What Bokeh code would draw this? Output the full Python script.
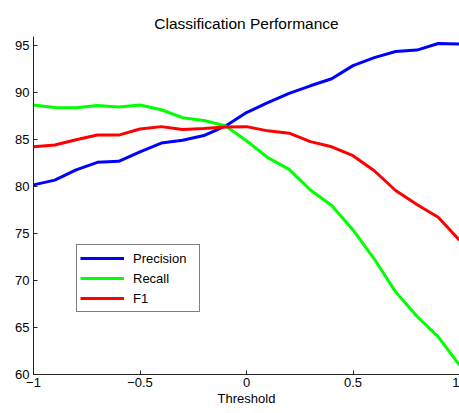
from bokeh.plotting import figure
from bokeh.models import Range1d, FixedTicker, Legend, LegendItem
from bokeh.embed import file_html
from bokeh.resources import INLINE

thresholds = [-1.0, -0.9, -0.8, -0.7, -0.6, -0.5, -0.4, -0.3, -0.2, -0.1, 0.0,
              0.1, 0.2, 0.3, 0.4, 0.5, 0.6, 0.7, 0.8, 0.9, 1.0]
precision = [80.2, 80.7, 81.8, 82.6, 82.7, 83.7, 84.65, 84.95, 85.45, 86.45, 87.9,
             88.95, 89.95, 90.75, 91.5, 92.9, 93.75, 94.4, 94.55, 95.25, 95.2]
recall = [88.7, 88.45, 88.4, 88.65, 88.5, 88.7, 88.2, 87.35, 87.05, 86.5, 84.9,
          83.1, 81.85, 79.65, 78.0, 75.4, 72.3, 68.8, 66.2, 64.0, 61.0]
f1 = [84.25, 84.45, 85.0, 85.5, 85.5, 86.15, 86.4, 86.1, 86.2, 86.35, 86.4,
      85.95, 85.7, 84.8, 84.25, 83.3, 81.7, 79.6, 78.1, 76.75, 74.3]

x_ticks = [-1, -0.5, 0, 0.5, 1]
x_tick_labels = {-1: "\u22121", -0.5: "\u22120.5", 0: "0", 0.5: "0.5", 1: "1"}
y_ticks = [60, 65, 70, 75, 80, 85, 90, 95]

FONT = "Liberation Sans"

p = figure(width=459, height=413, output_backend="svg", toolbar_location=None,
           title="Classification Performance",
           x_range=Range1d(-1, 1), y_range=Range1d(60, 96),
           min_border_left=33, min_border_right=0, min_border_top=36,
           min_border_bottom=39)
p.title.align = "center"
p.title.text_font = FONT
p.title.text_font_size = "15.5px"
p.title.text_font_style = "normal"
p.title.text_color = "black"

p.outline_line_color = None
p.xgrid.visible = False
p.ygrid.visible = False

for ax in (p.xaxis[0], p.yaxis[0]):
    ax.major_tick_in = 4
    ax.major_tick_out = 0
    ax.minor_tick_line_color = None
    ax.axis_line_color = "#222222"
    ax.major_tick_line_color = "#222222"
    ax.major_label_text_font = FONT
    ax.major_label_text_font_size = "13px"
    ax.major_label_text_color = "black"
    ax.major_label_standoff = 4

p.xaxis[0].ticker = FixedTicker(ticks=x_ticks)
p.xaxis[0].major_label_overrides = x_tick_labels
p.xaxis[0].axis_label = "Threshold"
p.xaxis[0].axis_label_text_font = FONT
p.xaxis[0].axis_label_text_font_size = "13px"
p.xaxis[0].axis_label_text_font_style = "normal"
p.xaxis[0].axis_label_text_color = "black"
p.xaxis[0].axis_label_standoff = 1
p.xaxis[0].major_label_standoff = 3
p.yaxis[0].ticker = FixedTicker(ticks=y_ticks)

r_p = p.line(thresholds, precision, line_color="#0000FF", line_width=3)
r_r = p.line(thresholds, recall, line_color="#00FF00", line_width=3)
r_f = p.line(thresholds, f1, line_color="#FF0000", line_width=3)

legend = Legend(items=[LegendItem(label="Precision", renderers=[r_p]),
                       LegendItem(label="Recall", renderers=[r_r]),
                       LegendItem(label="F1", renderers=[r_f])],
                location=(43, 62), padding=3, spacing=0, margin=0,
                glyph_width=44, glyph_height=20, label_height=20,
                label_width=63, label_standoff=9,
                label_text_font=FONT, label_text_font_size="13px",
                label_text_color="black",
                border_line_color="black", border_line_width=1,
                background_fill_color="white", background_fill_alpha=1)
p.add_layout(legend, "center")

open("out.html", "w").write(file_html(p, INLINE))
